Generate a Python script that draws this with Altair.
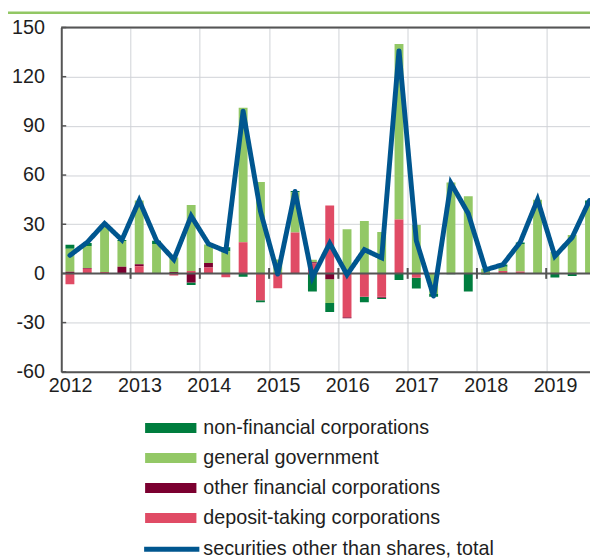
import altair as alt
import pandas as pd

# ---------------- data ----------------
periods = [f"{y} Q{q}" for y in range(2012, 2020) for q in range(1, 5)][:31]

nfc = [2.5, 1.8, 0, 0.6,  0, 2.0, 0, -1.4,  0, 2.4, -2.0, -1.2,  0, 0.8, -11.0, -5.6,
       0, -3.4, -0.8, -4.0,  -6.6, -1.6, -0.5, -11.0,  -0.6, 1.4, 0.8, 0,  -2.5, -1.5, 2.5]
gg = [14.0, 13.5, 29.3, 15.8,  38.9, 18.0, 8.8, 40.3,  11.2, 13.5, 82.0, 55.7,  8.5, 24.5, 1.6, -14.4,
      26.9, 32.0, 25.3, 107.0,  29.5, -12.6, 55.5, 47.1,  2.8, 2.6, 16.8, 44.9,  13.0, 23.5, 42.0]
ofc = [1.0, 0.5, 0, 4.0,  1.2, 0, 0.9, -5.6,  2.8, 0, 0, 0,  0, 0, 0.8, -3.6,
       -0.6, 0, -0.6, 0,  0, 0, 0, 0,  0, 0, 0, 0,  0, 0, 0]
dtc = [-6.6, 2.8, 0.8, 0,  4.4, 0, -1.2, 1.4,  3.6, -2.4, 19.0, -16.4,  -9.0, 25.0, 6.0, 41.5,
       -26.7, -14.2, -14.2, 32.9,  -2.6, 0, 0, 0,  0, 1.4, 1.2, 0,  0, 0, 0]
total = [11.0, 19.0, 30.5, 20.4,  44.5, 20.0, 8.5, 35.0,  18.0, 13.6, 99.0, 38.0,  -0.5, 50.0, -2.5, 18.4,
         -0.8, 14.5, 9.5, 136.0,  20.0, -14.0, 55.0, 36.5,  2.2, 5.4, 19.0, 45.0,  10.5, 22.0, 44.5]

series_names = ["non-financial corporations", "general government",
                "other financial corporations", "deposit-taking corporations"]
series_colors = ["#007d3e", "#93c866", "#7b0030", "#e04b65"]
stack_rank = [4, 3, 2, 1]          # deposit-taking nearest to zero
line_name = "securities other than shares, total"
line_color = "#00568f"
title_text = "by resident sectors, UAH billions"

year_ticks = [2012, 2013, 2014, 2015, 2016, 2017, 2018, 2019]
zero_ticks = [2013, 2014, 2015, 2016, 2017, 2018, 2019]
y_ticks = [-60, -30, 0, 30, 60, 90, 120, 150]
x_domain = [2012, 2019.632]
y_domain = [-60, 150]

FONT = "Liberation Sans"
AXIS_GRAY = "#555555"
GRID = "#cfd2d6"
TEXT = "#1e1e1e"
FS = 20


def pos_of(p):
    y, q = p.split(" Q")
    return int(y) + (int(q) - 0.5) / 4


rows = []
for i, p in enumerate(periods):
    for name, vals, rank in zip(series_names, [nfc, gg, ofc, dtc], stack_rank):
        if vals[i] != 0:
            rows.append({"period": p, "pos": pos_of(p), "series": name,
                         "value": vals[i], "rank": rank})
bars_df = pd.DataFrame(rows)
line_df = pd.DataFrame({"period": periods, "pos": [pos_of(p) for p in periods],
                        "total": total, "series": line_name})
ticks_df = pd.DataFrame({"year": zero_ticks})
ytk_df = pd.DataFrame({"v": y_ticks})
one_df = pd.DataFrame({"a": [0]})

xscale = alt.Scale(domain=x_domain, nice=False, zero=False, padding=0)
yscale = alt.Scale(domain=y_domain, nice=False, padding=0)

x_axis = alt.Axis(values=year_ticks, format="d", grid=True, gridColor=GRID, gridWidth=1,
                  domainColor=AXIS_GRAY, domainWidth=2, ticks=False, labelFontSize=FS,
                  labelFont=FONT, labelColor=TEXT, labelOffset=9, labelPadding=4,
                  labelFlush=False, labelOverlap=False, title=None)
y_axis = alt.Axis(values=y_ticks, grid=True, gridColor=GRID, gridWidth=1,
                  domainColor=AXIS_GRAY, domainWidth=2, ticks=False, labelFontSize=FS,
                  labelFont=FONT, labelColor=TEXT, labelPadding=17, title=None,
                  labelExpr="toString(datum.value)")

bar_path = "M-1,-1H9.4V1H-1Z"
line_path = "M-1,0H10.2"

bars = alt.Chart(bars_df).mark_bar(size=9, clip=True).encode(
    x=alt.X("pos:Q", scale=xscale, axis=x_axis),
    y=alt.Y("value:Q", scale=yscale, axis=y_axis, stack="zero"),
    color=alt.Color("series:N",
                    scale=alt.Scale(domain=series_names, range=series_colors),
                    legend=alt.Legend(orient="none", legendX=80, legendY=396, title=None,
                                      direction="vertical", symbolType=bar_path, symbolSize=100,
                                      symbolStrokeWidth=0, symbolOpacity=1,
                                      labelFontSize=FS, labelFont=FONT, labelColor=TEXT,
                                      labelOffset=44, labelLimit=500, rowPadding=10.4,
                                      padding=0)),
    order=alt.Order("rank:Q"),
)

zero_rule = alt.Chart(one_df).mark_rule(color=AXIS_GRAY, strokeWidth=2).encode(
    y=alt.Y("z:Q", scale=yscale)
).transform_calculate(z="0")

zero_ticks_mark = alt.Chart(ticks_df).mark_tick(
    color=AXIS_GRAY, thickness=2, size=11, orient="vertical", opacity=1
).encode(
    x=alt.X("year:Q", scale=xscale),
    y=alt.Y("z:Q", scale=yscale),
).transform_calculate(z="0")

top_rule = alt.Chart(one_df).mark_rule(color=AXIS_GRAY, strokeWidth=2).encode(
    y=alt.Y("t:Q", scale=yscale)
).transform_calculate(t="150")

inner_ticks = alt.Chart(ytk_df).mark_rule(color=AXIS_GRAY, strokeWidth=1.5).encode(
    y=alt.Y("v:Q", scale=yscale),
    x=alt.value(0),
    x2=alt.value(5),
)

line = alt.Chart(line_df).mark_line(
    color=line_color, strokeWidth=5, strokeCap="round", clip=True
).encode(
    x=alt.X("pos:Q", scale=xscale),
    y=alt.Y("total:Q", scale=yscale),
    strokeDash=alt.StrokeDash("series:N",
                              scale=alt.Scale(domain=[line_name], range=[[1, 0]]),
                              legend=alt.Legend(orient="none", legendX=79, legendY=519,
                                                title=None, symbolType=line_path,
                                                symbolSize=100, symbolStrokeWidth=5,
                                                symbolStrokeColor=line_color,
                                                symbolFillColor="transparent",
                                                labelFontSize=FS, labelFont=FONT,
                                                labelColor=TEXT, labelOffset=45,
                                                labelLimit=500, padding=0)),
)

green_rule = alt.Chart(one_df).mark_rule(color="#92c764", strokeWidth=2.5).encode(
    x=alt.value(-54), x2=alt.value(536), y=alt.value(-15)
)

chart = alt.layer(
    bars, zero_rule, zero_ticks_mark, top_rule, inner_ticks, line, green_rule
).properties(
    width=536, height=349,
    padding={"left": 54, "top": 16, "right": 0, "bottom": 185},
    autosize=alt.AutoSizeParams(type="none"),
    title=alt.TitleParams(title_text, anchor="start", frame="group", dx=-67, offset=18,
                          baseline="bottom", fontSize=FS, font=FONT, fontWeight="bold",
                          color=TEXT),
).configure_view(stroke=None).configure(background="white")

chart.save("out.html", embed_options={"renderer": "svg", "actions": False})
